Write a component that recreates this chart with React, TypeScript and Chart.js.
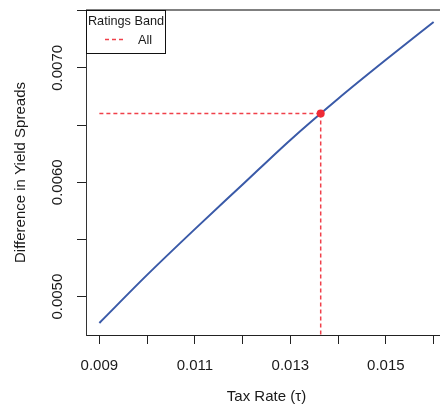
import React, { useEffect, useRef } from 'react';
import { Chart, registerables } from 'chart.js';

Chart.register(...registerables);

// ---- data ----
const taxRates = [0.009, 0.010, 0.011, 0.012, 0.013, 0.014, 0.015, 0.016];
const spreadDiffs = [0.00477, 0.00519, 0.00559, 0.00598, 0.00637, 0.00673, 0.00707, 0.00740];
const breakevenTau = [0.013635];
const breakevenSpread = [0.0066];

const xTicks = [0.009, 0.010, 0.011, 0.012, 0.013, 0.014, 0.015, 0.016];
const xTickLabels = ['0.009', '', '0.011', '', '0.013', '', '0.015', ''];
const yTicks = [0.0050, 0.0055, 0.0060, 0.0065, 0.0070, 0.0075];
const yTickLabels = ['0.0050', '', '0.0060', '', '0.0070', ''];

const xTitle = 'Tax Rate (\u03C4)';
const yTitle = 'Difference in Yield Spreads';
const legendTitle = 'Ratings Band';
const legendLabels = ['All'];

// R-style 4% axis extension
const xSpan = taxRates[taxRates.length - 1] - taxRates[0];
const xMin = taxRates[0] - 0.04 * xSpan;
const xMax = taxRates[taxRates.length - 1] + 0.04 * xSpan;
const ySpan = Math.max(...spreadDiffs) - Math.min(...spreadDiffs);
const yMin = Math.min(...spreadDiffs) - 0.04 * ySpan;
const yMax = Math.max(...spreadDiffs) + 0.04 * ySpan;

const FONT = "'Liberation Sans', Arial, Helvetica, sans-serif";
const BLUE = '#3A5AA8';
const RED = '#EE2A35';
const DASH_RED = '#F0404A';
const TEXT = '#1a1a1a';

const frameLegendPlugin = {
  id: 'frameLegend',
  afterDraw(chart: any) {
    const ctx = chart.ctx;
    const a = chart.chartArea;
    ctx.save();
    // top frame line (box)
    ctx.strokeStyle = '#000';
    ctx.lineWidth = 1;
    ctx.beginPath();
    ctx.moveTo(a.left, a.top);
    ctx.lineTo(a.right, a.top);
    ctx.stroke();

    // legend box
    const lx = a.left;
    const ly = a.top;
    const lw = 80;
    const lh = 44;
    ctx.fillStyle = '#fff';
    ctx.fillRect(lx, ly, lw, lh);
    ctx.strokeStyle = '#111';
    ctx.strokeRect(lx + 0.5, ly + 0.5, lw - 1, lh - 1);

    ctx.fillStyle = TEXT;
    ctx.font = `12.7px ${FONT}`;
    ctx.textBaseline = 'alphabetic';
    ctx.textAlign = 'center';
    ctx.fillText(legendTitle, lx + lw / 2, ly + 15);

    ctx.strokeStyle = DASH_RED;
    ctx.lineWidth = 1.5;
    ctx.setLineDash([4, 3]);
    ctx.beginPath();
    ctx.moveTo(lx + 19, ly + 29.5);
    ctx.lineTo(lx + 38, ly + 29.5);
    ctx.stroke();
    ctx.setLineDash([]);

    ctx.textAlign = 'left';
    ctx.fillText(legendLabels[0], lx + 52, ly + 34);
    ctx.restore();
  },
};

export default function App() {
  const ref = useRef<HTMLCanvasElement | null>(null);

  useEffect(() => {
    if (!ref.current) return;
    const chart = new Chart(ref.current, {
      type: 'line',
      data: {
        datasets: [
          {
            label: 'point',
            data: [{ x: breakevenTau[0], y: breakevenSpread[0] }],
            showLine: false,
            pointRadius: 4,
            pointBackgroundColor: RED,
            pointBorderWidth: 0,
            borderColor: RED,
          },
          {
            label: 'h',
            data: [
              { x: taxRates[0], y: breakevenSpread[0] },
              { x: breakevenTau[0], y: breakevenSpread[0] },
            ],
            borderColor: DASH_RED,
            borderWidth: 1.5,
            borderDash: [4, 3],
            pointRadius: 0,
          },
          {
            label: 'v',
            data: [
              { x: breakevenTau[0], y: breakevenSpread[0] },
              { x: breakevenTau[0], y: yMin },
            ],
            borderColor: DASH_RED,
            borderWidth: 1.5,
            borderDash: [4, 3],
            pointRadius: 0,
          },
          {
            label: 'All',
            data: taxRates.map((x, i) => ({ x, y: spreadDiffs[i] })),
            borderColor: BLUE,
            borderWidth: 2,
            pointRadius: 0,
            cubicInterpolationMode: 'monotone',
          },
        ],
      },
      options: {
        animation: false,
        responsive: false,
        devicePixelRatio: 1,
        layout: { padding: { top: 10, right: 13, left: 0, bottom: 0 } },
        plugins: { legend: { display: false }, tooltip: { enabled: false } },
        scales: {
          x: {
            type: 'linear',
            min: xMin,
            max: xMax,
            afterBuildTicks: (s: any) => {
              s.ticks = xTicks.map((v) => ({ value: v }));
            },
            afterFit: (s: any) => {
              s.height = 78;
            },
            ticks: {
              autoSkip: false,
              maxRotation: 0,
              minRotation: 0,
              padding: 13,
              color: TEXT,
              font: { family: FONT, size: 15 },
              callback: (_v: any, i: number) => xTickLabels[i],
            },
            grid: {
              display: true,
              drawOnChartArea: false,
              drawTicks: true,
              tickLength: 9,
              color: '#222',
            },
            border: { display: true, color: '#222', width: 1 },
            title: {
              display: true,
              text: xTitle,
              color: TEXT,
              font: { family: FONT, size: 15 },
              padding: { top: 0, bottom: 7.5 },
            },
          },
          y: {
            type: 'linear',
            min: yMin,
            max: yMax,
            afterBuildTicks: (s: any) => {
              s.ticks = yTicks.map((v) => ({ value: v }));
            },
            afterFit: (s: any) => {
              s.width = 86;
            },
            ticks: {
              autoSkip: false,
              minRotation: 90,
              maxRotation: 90,
              crossAlign: 'center',
              padding: -4,
              color: TEXT,
              font: { family: FONT, size: 15 },
              callback: (_v: any, i: number) => yTickLabels[i],
            },
            grid: {
              display: true,
              drawOnChartArea: false,
              drawTicks: true,
              tickLength: 9,
              color: '#222',
            },
            border: { display: true, color: '#333', width: 1 },
            title: {
              display: true,
              text: yTitle,
              color: TEXT,
              font: { family: FONT, size: 15 },
              padding: { top: 11.5, bottom: 0 },
            },
          },
        },
      },
      plugins: [frameLegendPlugin],
    } as any);
    return () => chart.destroy();
  }, []);

  return (
    <div
      style={{
        position: 'absolute',
        left: 0,
        top: 0,
        width: 440,
        height: 413,
        overflow: 'hidden',
        background: '#fff',
      }}
    >
      <canvas ref={ref} width={460} height={413} style={{ display: 'block' }} />
    </div>
  );
}
